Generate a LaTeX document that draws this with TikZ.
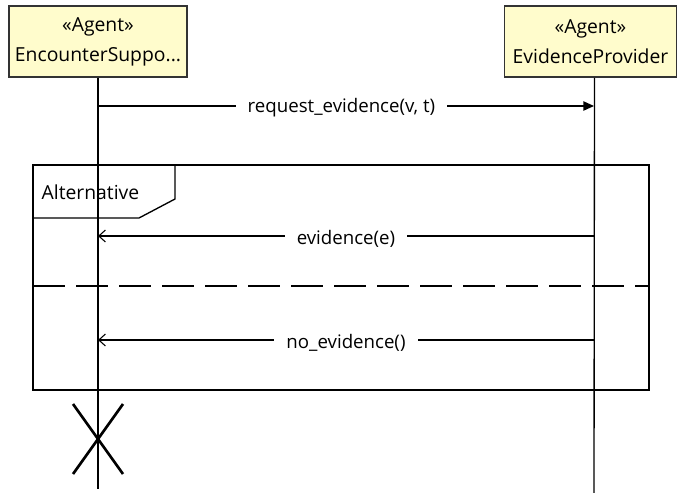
\documentclass[tikz,border=0pt]{standalone}
\usepackage{fontspec}
\setmainfont{Open Sans}
\usetikzlibrary{arrows.meta}
\begin{document}
\begin{tikzpicture}[x=0.75pt,y=-0.75pt,
  line width=1pt,
  lifehead/.style={draw=black!80, line width=1.4pt, fill=yellow!20,
    minimum height=53pt, inner sep=0pt, align=center,
    font=\fontsize{14.5}{22.5}\selectfont},
  msglabel/.style={fill=white, inner xsep=9pt, inner ysep=1pt,
    font=\fontsize{14}{16}\selectfont},
  syncmsg/.style={-{Triangle[length=8pt,width=7pt]}},
  replymsg/.style={-{Straight Barb[length=5pt,width=9pt,line width=0.8pt]}},
  frameline/.style={draw, line width=1pt},
]
\useasboundingbox (0,0) rectangle (686,493);

% lifeline heads
\node[lifehead, minimum width=134pt] (hdrA) at (98,41.5) {«Agent»\\EncounterSuppo...};
\node[lifehead, minimum width=129pt] (hdrB) at (590.5,41.5) {«Agent»\\EvidenceProvider};

% lifeline ends
\coordinate (endA) at (98,489);
\coordinate (endB) at (594,493);
\draw (hdrA.south) -- (endA);
\draw ([xshift=3pt]hdrB.south) -- (endB);

% combined fragment
\coordinate (frTL) at (33,165);
\coordinate (frBR) at (649,390);
\draw[frameline] (frTL) rectangle (frBR);
\draw[frameline] (175,165) -- (175,199) -- (139,218) -- (33,218);
\node[anchor=west, font=\fontsize{14.5}{16}\selectfont, inner sep=0pt] (altlbl) at (41,192) {Alternative};
\coordinate (sepL) at (33,286);
\coordinate (sepR) at (649,286);
\draw[dash pattern=on 24pt off 8.25pt] (sepL) -- (sepR);

% messages
\coordinate (m1a) at (98,106);
\coordinate (m1b) at (594,106);
\draw[syncmsg] (m1a) -- (m1b);
\node[msglabel] (m1) at (341.5,108) {request\_evidence(v, t)};

\coordinate (m2a) at (594,236);
\coordinate (m2b) at (98,236);
\draw[replymsg] (m2a) -- (m2b);
\node[msglabel] (m2) at (346,239) {evidence(e)};

\coordinate (m3a) at (594,340);
\coordinate (m3b) at (98,340);
\draw[replymsg] (m3a) -- (m3b);
\node[msglabel] (m3) at (346,343) {no\_evidence()};

% destruction mark
\coordinate (xc) at (98,439);
\draw[line width=2pt] (73,404) -- (123,474);
\draw[line width=2pt] (123,404) -- (73,474);
\end{tikzpicture}
\end{document}
